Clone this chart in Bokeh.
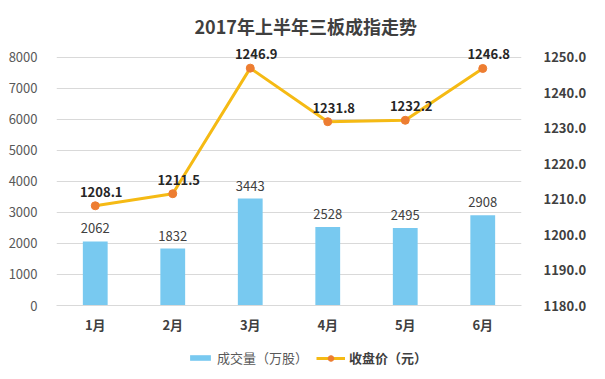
from bokeh.plotting import figure
from bokeh.layouts import column
from bokeh.models import (ColumnDataSource, LinearAxis, Range1d, LabelSet, Title,
                          Legend, LegendItem, FixedTicker, NumeralTickFormatter)
from bokeh.core.properties import value
from bokeh.embed import file_html
from bokeh.resources import INLINE

months = ["1月", "2月", "3月", "4月", "5月", "6月"]
volume = [2062, 1832, 3443, 2528, 2495, 2908]
price = [1208.1, 1211.5, 1246.9, 1231.8, 1232.2, 1246.8]
left_ticks = [0, 1000, 2000, 3000, 4000, 5000, 6000, 7000, 8000]
right_ticks = [1180, 1190, 1200, 1210, 1220, 1230, 1240, 1250]
series_names = ["成交量（万股）", "收盘价（元）"]

FONT = "Noto Sans CJK SC"
BAR = "#78C9F0"
LINE = "#F5BA14"
MARK = "#ED7D31"

src = ColumnDataSource(dict(
    m=months, v=volume, p=price,
    vt=[str(x) for x in volume],
    pt=[f"{x:.1f}" for x in price],
))

# ranges extended a little above the top gridline so top labels are not clipped
TOP = 8600
p = figure(x_range=months, y_range=Range1d(0, TOP), width=589, height=345,
           output_backend="svg", toolbar_location=None,
           min_border_left=56, min_border_right=59, min_border_top=38, min_border_bottom=40)
p.extra_y_ranges = {"price": Range1d(1180, 1180 + 70 * TOP / 8000)}
p.outline_line_color = None
p.background_fill_color = "white"
p.border_fill_color = "white"
p.x_range.range_padding = 0

p.title = Title(text="2017年上半年三板成指走势", align="left", text_font=FONT,
                text_font_size="18px", text_font_style="bold", text_color="#3F3F3F",
                standoff=0, offset=138)

# axes
p.yaxis.ticker = FixedTicker(ticks=left_ticks)
p.yaxis.axis_line_color = None
p.yaxis.major_tick_line_color = None
p.yaxis.minor_tick_line_color = None
p.yaxis.major_label_text_font = FONT
p.yaxis.major_label_text_font_size = "13px"
p.yaxis.major_label_text_color = "#595959"
p.yaxis.major_label_standoff = 13

p.xaxis.axis_line_color = "#D9D9D9"
p.xaxis.major_tick_line_color = None
p.xaxis.minor_tick_line_color = None
p.xaxis.major_label_text_font = FONT
p.xaxis.major_label_text_font_size = "13px"
p.xaxis.major_label_text_font_style = "bold"
p.xaxis.major_label_text_color = "#404040"
p.xaxis.major_label_standoff = 3

ra = LinearAxis(y_range_name="price", ticker=FixedTicker(ticks=right_ticks),
                formatter=NumeralTickFormatter(format="0.0"))
ra.axis_line_color = None
ra.major_tick_line_color = None
ra.minor_tick_line_color = None
ra.major_label_text_font = FONT
ra.major_label_text_font_size = "13px"
ra.major_label_text_font_style = "bold"
ra.major_label_text_color = "#404040"
ra.major_label_standoff = 16
p.add_layout(ra, "right")

p.xgrid.grid_line_color = None
p.ygrid.grid_line_color = "#D9D9D9"
p.ygrid.ticker = FixedTicker(ticks=left_ticks)

p.vbar(x="m", top="v", width=0.32, source=src, color=BAR, line_color=None)
p.line(x="m", y="p", source=src, y_range_name="price", line_color=LINE, line_width=3)
p.scatter(x="m", y="p", source=src, y_range_name="price", size=8,
          fill_color=MARK, line_color=MARK)

p.add_layout(LabelSet(x="m", y="v", text="vt", source=src, y_offset=13,
                      text_align="center", text_baseline="middle",
                      text_font=value(FONT), text_font_size="13px", text_color="#404040"))
p.add_layout(LabelSet(x="m", y="p", text="pt", source=src, y_range_name="price",
                      x_offset=6, y_offset=14, text_align="center", text_baseline="middle",
                      text_font=value(FONT), text_font_size="13px", text_font_style="bold",
                      text_color="#262626"))

# legend strip below the chart (swatch renderers sit outside its visible range)
lf = figure(width=589, height=24, output_backend="svg", toolbar_location=None,
            x_range=Range1d(0, 1), y_range=Range1d(0, 1),
            x_axis_type=None, y_axis_type=None, min_border=0)
lf.outline_line_color = None
lf.grid.grid_line_color = None
swatch = ColumnDataSource(dict(x=[-10], y=[-10]))
rb = lf.vbar(x="x", top="y", width=0.3, source=swatch, color=BAR, line_color=None)
rl = lf.line(x="x", y="y", source=swatch, line_color=LINE, line_width=3)
rs = lf.scatter(x="x", y="y", source=swatch, size=8, fill_color=MARK, line_color=MARK)

def legend(items, loc, bold, gw, gh):
    return Legend(items=items, location=loc, orientation="horizontal",
                  border_line_color=None, background_fill_alpha=0,
                  padding=0, margin=0, glyph_width=gw, glyph_height=gh,
                  label_height=14, label_text_font=FONT, label_text_font_size="13px",
                  label_text_color="#404040" if bold else "#595959",
                  label_text_font_style="bold" if bold else "normal",
                  label_standoff=4, spacing=0)

lf.add_layout(legend([LegendItem(label=series_names[0], renderers=[rb])], (131, 2), False, 26, 7))
lf.add_layout(legend([LegendItem(label=series_names[1], renderers=[rl, rs])], (260, 2), True, 29, 14))

open("out.html", "w").write(file_html(column(p, lf, spacing=0), INLINE))
